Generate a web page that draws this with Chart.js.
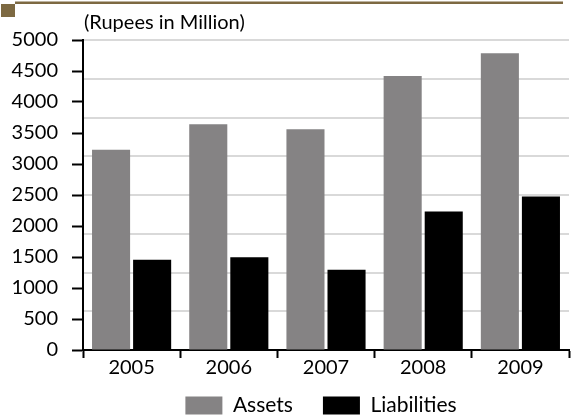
<!DOCTYPE html>
<html>
<head>
<meta charset="utf-8">
<script src="https://cdn.jsdelivr.net/npm/chart.js@4"></script>
<style>
  html, body { margin: 0; padding: 0; background: #fff; overflow: hidden; }
  #wrap { position: relative; width: 572px; height: 418px; }
</style>
</head>
<body>
<div id="wrap"><canvas id="c" width="572" height="418"></canvas></div>
<script>
// Balance sheet totals, Rupees in Million
const years = ['2005', '2006', '2007', '2008', '2009'];
const assets = [3230, 3640, 3560, 4420, 4785];
const liabilities = [1455, 1495, 1295, 2235, 2475];
const yTicks = [0, 500, 1000, 1500, 2000, 2500, 3000, 3500, 4000, 4500, 5000];

const FONT = 'Lato, "Open Sans", sans-serif';
const BROWN = '#7d6942';

// Header rule, corner block and unit caption
const decor = {
  id: 'decor',
  beforeDraw(chart) {
    const ctx = chart.ctx;
    ctx.save();
    ctx.fillStyle = '#fff';
    ctx.fillRect(0, 0, chart.width, chart.height);
    ctx.fillStyle = BROWN;
    ctx.fillRect(15, 1.5, 548, 2.5);
    ctx.fillRect(1, 4, 14, 13);
    ctx.restore();
  },
  afterDraw(chart) {
    const ctx = chart.ctx;
    ctx.save();
    ctx.fillStyle = '#000';
    ctx.font = '20px ' + FONT;
    ctx.textBaseline = 'alphabetic';
    ctx.textAlign = 'left';
    ctx.fillText('(Rupees in Million)', chart.chartArea.left + 1, 29);
    ctx.restore();
  }
};

// The legend keeps wide gaps between its items, sits close under the axis
// and is centred under the plot area rather than the whole canvas
const LEGEND_LIFT = 19;
const LEGEND_SHIFT = -5;
const legendPlace = {
  id: 'legendPlace',
  afterLayout(chart) {
    const lg = chart.legend;
    if (!lg) return;
    lg.top -= LEGEND_LIFT;
    lg.bottom -= LEGEND_LIFT;
    lg.left = chart.chartArea.left + LEGEND_SHIFT;
    lg.right = chart.chartArea.right + LEGEND_SHIFT;
    lg.width = lg.right - lg.left;
  }
};

new Chart(document.getElementById('c'), {
  type: 'bar',
  data: {
    labels: years,
    datasets: [
      { label: 'Assets', data: assets, backgroundColor: '#858384', borderWidth: 0 },
      { label: 'Liabilities', data: liabilities, backgroundColor: '#000000', borderWidth: 0 }
    ]
  },
  options: {
    responsive: false,
    animation: false,
    devicePixelRatio: 1,
    categoryPercentage: 0.845,
    barPercentage: 0.927,
    layout: { padding: { top: 40, right: 3, left: 0, bottom: -27 } },
    plugins: {
      title: { display: false },
      tooltip: { enabled: false },
      legend: {
        position: 'bottom',
        labels: {
          boxWidth: 37,
          boxHeight: 18,
          padding: 30,
          color: '#000',
          font: { family: FONT, size: 21 }
        }
      }
    },
    scales: {
      x: {
        offset: true,
        grid: {
          offset: true,
          drawOnChartArea: false,
          drawTicks: true,
          tickLength: 8,
          tickColor: '#000',
          tickWidth: 2
        },
        border: { display: true, color: '#000', width: 2 },
        ticks: { color: '#000', padding: -2, font: { family: FONT, size: 20 } },
        afterFit(s) { s.height = 34; }
      },
      y: {
        position: 'left',
        min: 0,
        max: 5000,
        afterBuildTicks(s) { s.ticks = yTicks.map(v => ({ value: v })); },
        grid: {
          drawOnChartArea: false,
          drawTicks: true,
          tickLength: 11,
          tickColor: '#000',
          tickWidth: 2
        },
        border: { display: true, color: '#000', width: 2 },
        ticks: {
          color: '#000',
          padding: 14,
          font: { family: FONT, size: 20 },
          callback: v => String(v)
        },
        afterFit(s) { s.width = 83; }
      },
      grid8: {
        type: 'linear',
        display: true,
        axis: 'y',
        position: 'left',
        min: 0,
        max: 8,
        ticks: { display: false, stepSize: 1 },
        grid: { display: true, drawOnChartArea: true, color: '#d9d9d9', lineWidth: 2, drawTicks: false },
        border: { display: false },
        afterFit(s) { s.width = 0; }
      }
    }
  },
  plugins: [decor, legendPlace]
});
</script>
</body>
</html>
